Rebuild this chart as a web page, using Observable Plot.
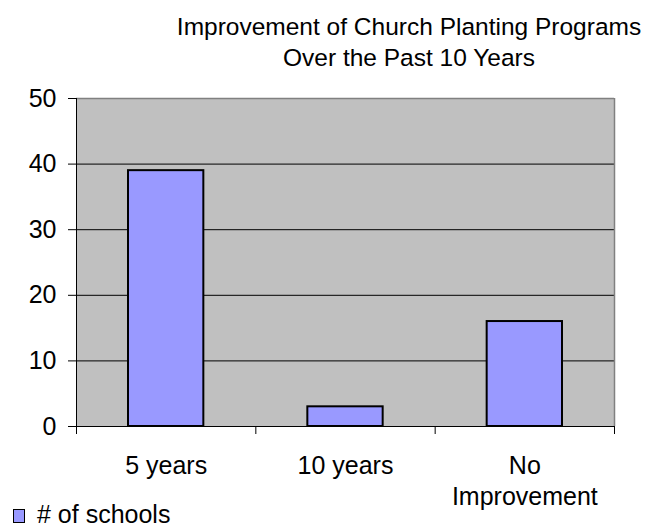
<!DOCTYPE html>
<html>
<head>
<meta charset="utf-8">
<script src="https://cdn.jsdelivr.net/npm/d3@7"></script>
<script src="https://cdn.jsdelivr.net/npm/@observablehq/plot@0.6"></script>
<style>
  html, body { margin: 0; padding: 0; background: #fff; }
  #wrap { position: relative; width: 658px; height: 529px; overflow: hidden; font-family: "Liberation Sans", Arial, sans-serif; color: #000; }
  #title { position: absolute; left: 160px; width: 498px; top: 11px; text-align: center; font-size: 24.5px; line-height: 31px; white-space: nowrap; }
  #chart { position: absolute; left: 0; top: 0; }
  #legend { position: absolute; left: 13px; top: 499px; font-size: 25px; line-height: 30px; display: flex; align-items: center; }
  #legend .sw { width: 10px; height: 12px; background: #9999ff; border: 1px solid #000; margin-right: 12px; margin-top: 4px; }
</style>
</head>
<body>
<div id="wrap">
  <div id="title"></div>
  <div id="chart"></div>
  <div id="legend"></div>
</div>
<script>
const titleLines = ["Improvement of Church Planting Programs", "Over the Past 10 Years"];
const categories = ["5 years", "10 years", "No\nImprovement"];
const values = [39, 3, 16];
const yTicks = [0, 10, 20, 30, 40, 50];
const seriesName = "# of schools";

document.getElementById("title").innerHTML = titleLines.map(t => `<div>${t}</div>`).join("");
document.getElementById("legend").innerHTML = `<span class="sw"></span><span>${seriesName}</span>`;

const data = categories.map((c, i) => ({cat: c, i, v: values[i]}));
const bounds = d3.range(categories.length + 1);

const plot = Plot.plot({
  width: 658,
  height: 529,
  marginLeft: 76,
  marginRight: 44,
  marginTop: 98,
  marginBottom: 103,
  style: {fontFamily: "'Liberation Sans', Arial, sans-serif", fontSize: "25px", color: "#000", background: "transparent", overflow: "visible"},
  x: {type: "linear", domain: [0, categories.length], axis: null},
  y: {type: "linear", domain: [0, 50], axis: null},
  marks: [
    Plot.frame({fill: "#c0c0c0", stroke: null}),
    Plot.ruleY(yTicks.filter(d => d > 0 && d < 50), {stroke: "#000", strokeWidth: 1}),
    Plot.ruleY([50], {stroke: "#808080", strokeWidth: 1.5}),
    Plot.ruleX([categories.length], {stroke: "#808080", strokeWidth: 1.5}),
    Plot.rectY(data, {x1: "i", x2: d => d.i + 1, y: "v", fill: "#9999ff", stroke: "#000", strokeWidth: 2, insetLeft: 52, insetRight: 52}),
    Plot.ruleY([0], {stroke: "#000", strokeWidth: 1}),
    Plot.ruleX([0], {stroke: "#000", strokeWidth: 1}),
    Plot.axisY(yTicks, {anchor: "left", label: null, tickSize: 8, tickPadding: 12, tickFormat: d => String(d), fontSize: 25, stroke: "#000", fill: "#000"}),
    Plot.axisX(bounds, {anchor: "bottom", label: null, tickSize: 8, tickFormat: () => "", stroke: "#000"}),
    Plot.text(data, {x: d => d.i + 0.5, y: 0, text: "cat", dy: 25, lineAnchor: "top", lineHeight: 1.25, fontSize: 25, fill: "#000"})
  ]
});
document.getElementById("chart").appendChild(plot);
</script>
</body>
</html>
